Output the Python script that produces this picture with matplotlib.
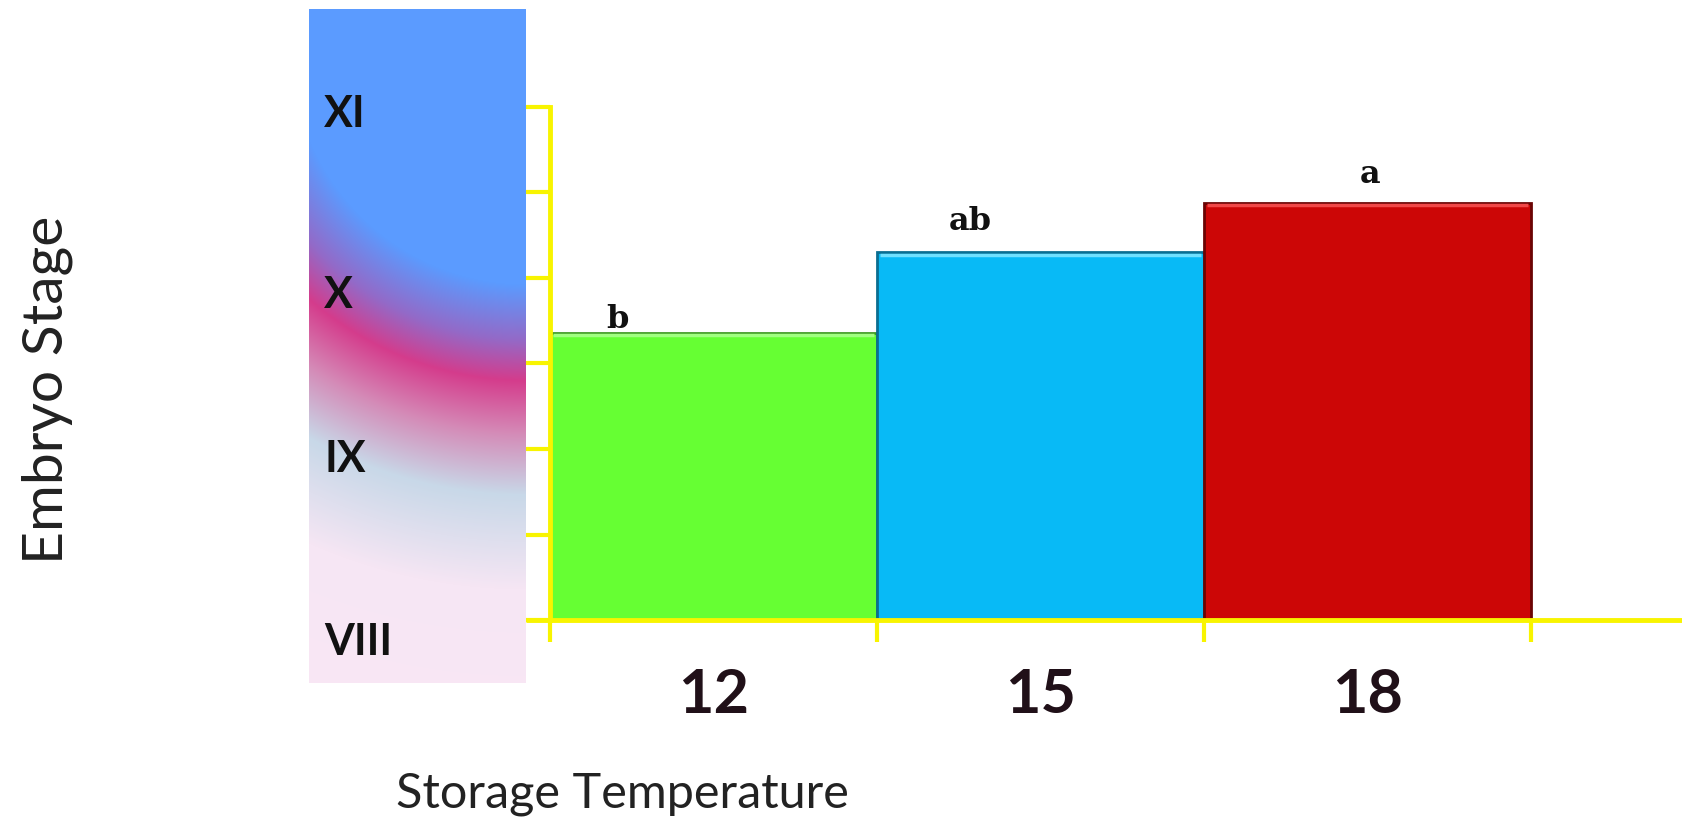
import numpy as np
import matplotlib.pyplot as plt
from matplotlib.transforms import blended_transform_factory

# data
temperatures = ['12', '15', '18']
stage_values = [3.36, 4.30, 4.88]
letters = ['b', 'ab', 'a']
bar_colors = ['#66FF33', '#08BAF6', '#CC0606']
edge_colors = ['#3E9A22', '#0A6E92', '#6A0404']
top_colors = ['#A0FF80', '#70E0FF', '#F04848']
stage_names = ['VIII', 'IX', 'X', 'XI']
stage_pos = [-0.26, 1.88, 3.8, 5.92]

YELLOW = '#F8F400'
W, H = 1683, 818

fig = plt.figure(figsize=(W / 100, H / 100), dpi=100)

# gradient strip behind the stage names
sx0, sx1, sy0, sy1 = 309, 526, 9, 683
strip = fig.add_axes([sx0 / W, 1 - sy1 / H, (sx1 - sx0) / W, (sy1 - sy0) / H])
sw, sh = sx1 - sx0, sy1 - sy0
yy, xx = np.mgrid[0:sh, 0:sw]
d = np.hypot(xx - sw, yy - 40)
stops = [0, 235, 290, 331, 385, 445, 540, 800]
cols = np.array([
    [0x5B, 0x9B, 0xFF],
    [0x5B, 0x9B, 0xFF],
    [0x93, 0x6A, 0xC8],
    [0xD4, 0x3C, 0x8C],
    [0xD4, 0x8C, 0xB8],
    [0xC8, 0xD8, 0xE8],
    [0xF6, 0xE6, 0xF4],
    [0xFC, 0xE6, 0xF6],
]) / 255.0
img = np.dstack([np.interp(d, stops, cols[:, i]) for i in range(3)])
strip.imshow(img, aspect='auto', extent=[0, 1, 0, 1], origin='upper')
strip.axis('off')

# main axes
ax0 = 550
ax = fig.add_axes([ax0 / W, (H - 620) / H, (W - ax0) / W, (620 - 107) / H])
ax.set_facecolor('none')
unit = 327.0
xmax = (W - ax0) / unit
ax.set_xlim(0, xmax)
ax.set_ylim(0, 6)

x = np.arange(len(temperatures)) + 0.5
ax.bar(x, stage_values, width=1.0, color=bar_colors, edgecolor=edge_colors,
       linewidth=2, zorder=2)
# bevel highlight along the top of each bar
ax.hlines(np.array(stage_values) - 0.03, x - 0.49, x + 0.49, colors=top_colors,
          lw=2.5, zorder=3)

# significance letters
dx = [-0.295, -0.216, 0.008]
dy = [0.06, 0.26, 0.23]
for i, lt in enumerate(letters):
    ax.text(x[i] + dx[i], stage_values[i] + dy[i], lt, ha='center', va='baseline',
            fontsize=23, fontweight='bold', family=['DejaVu Serif'], color='#111111')

# spines / ticks
for s in ['top', 'right', 'bottom']:
    ax.spines[s].set_visible(False)
ax.spines['left'].set_color(YELLOW)
ax.spines['left'].set_linewidth(3.5)
ax.set_yticks(range(7))
ax.set_yticklabels([])
ax.tick_params(axis='y', direction='out', length=17, width=3, color=YELLOW)
ax.set_xticks(range(4))
ax.set_xticklabels([])
ax.tick_params(axis='x', which='major', direction='out', length=16, width=3, color=YELLOW)
ax.set_xticks(x, temperatures, minor=True)
ax.tick_params(axis='x', which='minor', length=0, pad=34, labelsize=44)
for t in ax.get_xticklabels(minor=True):
    t.set_fontweight('bold')
    t.set_family(['Lato', 'DejaVu Sans'])
    t.set_color('#201018')
ax.plot([-24 / unit, xmax], [0, 0], color=YELLOW, lw=3.5, clip_on=False, zorder=3,
        solid_capstyle='butt')

# stage names on the strip
tr = blended_transform_factory(strip.transAxes, ax.transData)
for name, p in zip(stage_names, stage_pos):
    ax.text(0.07, p, name, transform=tr, ha='left', va='center', fontsize=31,
            fontweight='bold', family=['Lato', 'DejaVu Sans'], color='#111111')

fig.text(47 / W, 1 - 390 / H, 'Embryo Stage', rotation=90, ha='center', va='center',
         fontsize=41, family=['Lato', 'DejaVu Sans'], color='#222222')
fig.text(622 / W, 1 - 807 / H, 'Storage Temperature', ha='center', va='baseline',
         fontsize=35, family=['Lato', 'DejaVu Sans'], color='#222222')

fig.savefig('out.png', dpi=100, facecolor='white')
